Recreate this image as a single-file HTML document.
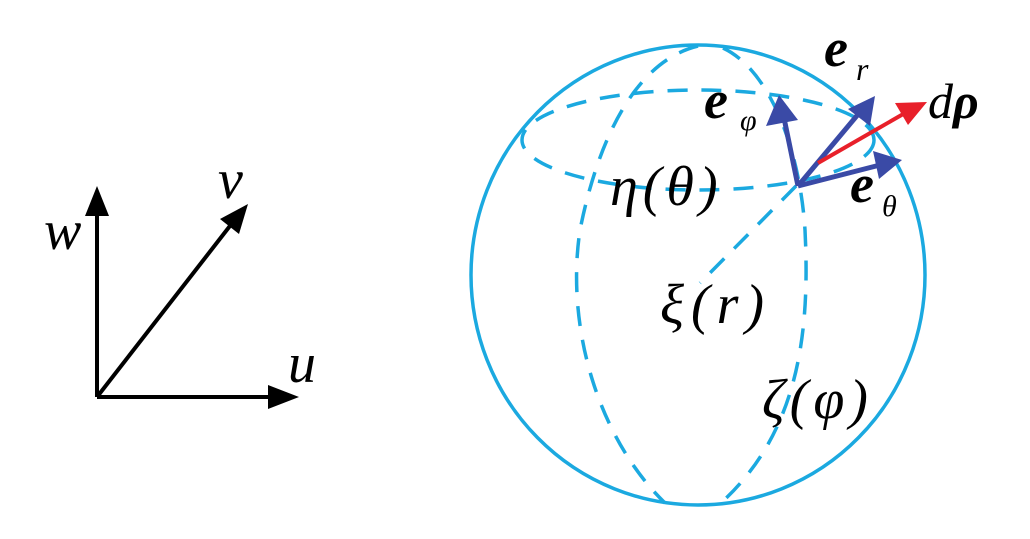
<!DOCTYPE html>
<html><head><style>html,body{margin:0;padding:0;background:#fff;}svg{display:block;}</style></head>
<body>
<svg width="1030" height="539" viewBox="0 0 1030 539" xmlns="http://www.w3.org/2000/svg">
<g stroke="#000" stroke-width="4" fill="none">
<line x1="97" y1="397" x2="97" y2="210"/>
<line x1="97" y1="397" x2="275" y2="397"/>
<line x1="97" y1="397" x2="233" y2="222"/>
</g>
<g fill="#000">
<polygon points="97,186 85,216 109,216"/>
<polygon points="299,397 268,385 268,409"/>
<polygon points="248,204 220,219 239,234"/>
</g>
<g font-family="Liberation Serif, serif" font-style="italic" font-size="56" fill="#000">
<text x="44" y="249">w</text>
<text x="218" y="198">v</text>
<text x="288" y="382">u</text>
</g>
<g stroke="#1ba9e0" stroke-width="3.5" fill="none">
<ellipse cx="698" cy="275" rx="227" ry="230"/>
<g stroke-dasharray="20,14">
<ellipse cx="698" cy="140" rx="176" ry="50"/>
<path d="M698 46 C640 60,600 130,580 230 C565 330,600 440,665 503"/>
<path d="M723 48 C770 70,800 150,805 230 C810 330,800 430,722 502"/>
<line x1="796" y1="186" x2="700" y2="283"/>
</g>
</g>
<g stroke="#3a4aa6" stroke-width="5" fill="#3a4aa6">
<line x1="798" y1="186" x2="784" y2="118"/>
<line x1="798" y1="186" x2="860" y2="112"/>
<line x1="798" y1="186" x2="880" y2="165"/>
</g>
<g fill="#3a4aa6">
<polygon points="779,95 766,126 798,120"/>
<polygon points="875,96 848,109 870,126"/>
<polygon points="902,160 873,151 879,179"/>
</g>
<line x1="818" y1="163" x2="905" y2="113" stroke="#e8202a" stroke-width="4"/>
<polygon points="927,102 895,103 908,125" fill="#e8202a"/>
<g font-family="Liberation Serif, serif" fill="#000">
<text x="704" y="118" font-size="54" font-weight="bold" font-style="italic">e</text>
<text x="740" y="130" font-size="30" font-style="italic">φ</text>
<text x="824" y="66" font-size="54" font-weight="bold" font-style="italic">e</text>
<text x="856" y="80" font-size="32" font-style="italic">r</text>
<text x="850" y="202" font-size="54" font-weight="bold" font-style="italic">e</text>
<text x="882" y="216" font-size="30" font-style="italic">θ</text>
<text x="928" y="118" font-size="50" font-style="italic">d<tspan font-weight="bold">ρ</tspan></text>
<text x="610" y="205" font-size="56" font-style="italic" letter-spacing="5">η(θ)</text>
<text x="660" y="323" font-size="56" font-style="italic" letter-spacing="7">ξ(r)</text>
<text x="762" y="418" font-size="56" font-style="italic" letter-spacing="5">ζ(φ)</text>
</g>
</svg>
</body></html>
